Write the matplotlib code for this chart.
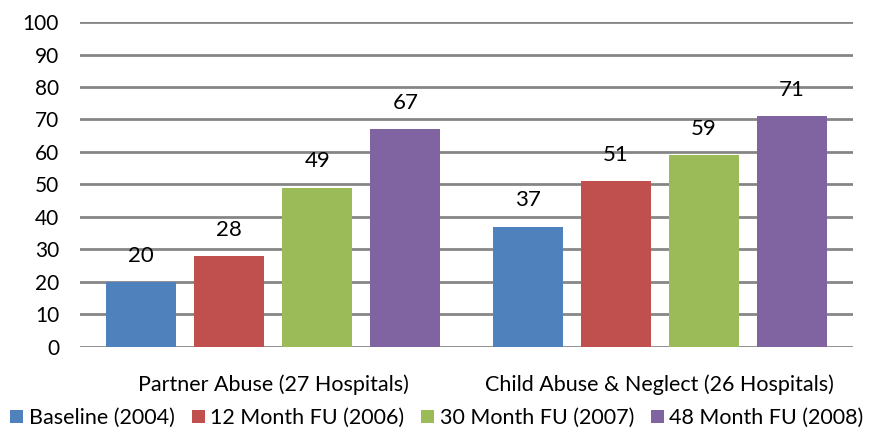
import matplotlib.pyplot as plt
import numpy as np

plt.rcParams['font.family'] = ['Lato', 'DejaVu Sans']

categories = ["Partner Abuse (27 Hospitals)", "Child Abuse & Neglect (26 Hospitals)"]
series_names = ["Baseline (2004)", "12 Month FU (2006)", "30 Month FU (2007)", "48 Month FU (2008)"]
baseline = [20, 37]
fu_12 = [28, 51]
fu_30 = [49, 59]
fu_48 = [67, 71]
colors = ["#4f81bd", "#c0504d", "#9bbb59", "#8064a2"]
yticks = list(range(0, 101, 10))

fig = plt.figure(figsize=(8.74, 4.32), dpi=100)
ax = fig.add_axes([0.0915, 0.197, 0.8845, 0.752])

x = np.arange(len(categories))
width = 0.18
step = 0.2277
all_series = [baseline, fu_12, fu_30, fu_48]
for i, (vals, name, c) in enumerate(zip(all_series, series_names, colors)):
    pos = x + (i - 1.5) * step
    bars = ax.bar(pos, vals, width, color=c, label=name, zorder=3)
    for b, v in zip(bars, vals):
        ax.text(b.get_x() + b.get_width() / 2, v + 5, str(v),
                ha="center", va="bottom", fontsize=16)

ax.set_xlim(-0.5, 1.5)
ax.set_ylim(0, 100)
ax.set_yticks(yticks)
ax.yaxis.grid(True, color="#868686", linewidth=2, zorder=0)
ax.set_axisbelow(True)
for s in ax.spines.values():
    s.set_visible(False)
ax.tick_params(axis="y", length=0, labelsize=15, pad=15)
ax.tick_params(axis="x", length=0, labelsize=15.5, pad=20)
ax.set_xticks(x)
ax.set_xticklabels(categories)

fig.legend(loc="lower center", bbox_to_anchor=(0.5, -0.036), ncol=4, frameon=False,
           fontsize=15.5, handlelength=0.6, handleheight=0.6, handletextpad=0.25,
           columnspacing=0.8)

fig.savefig("out.png", dpi=100)
